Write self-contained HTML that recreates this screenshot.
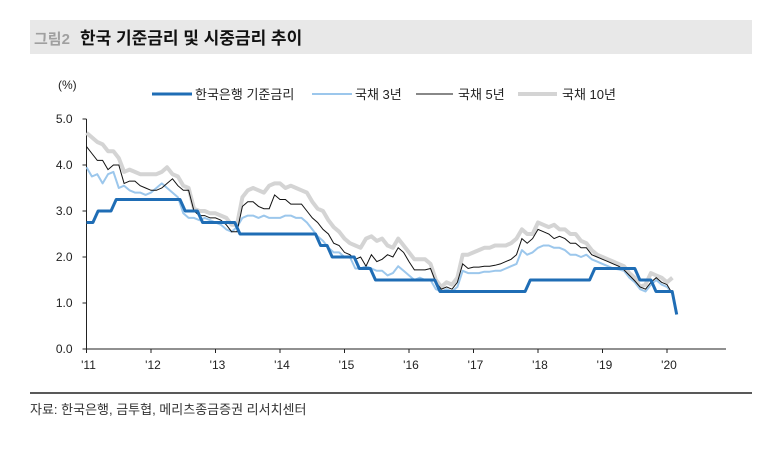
<!DOCTYPE html>
<html><head><meta charset="utf-8"><style>
body{margin:0;background:#fff;width:769px;height:444px;overflow:hidden;font-family:"Liberation Sans","Noto Sans CJK KR",sans-serif;}
</style></head><body>
<svg width="769" height="444" xmlns="http://www.w3.org/2000/svg" style="font-family:'Liberation Sans','Noto Sans CJK KR',sans-serif">
<rect x="30" y="20" width="722" height="34" fill="#e8e8e8"/>
<text x="34" y="44" font-size="15" fill="#a0a0a0" font-weight="bold">그림2</text>
<text x="80" y="44" font-size="17" fill="#111" font-weight="bold">한국 기준금리 및 시중금리 추이</text>
<text x="58" y="89" font-size="12" fill="#222">(%)</text>
<g id="legend" font-size="13" fill="#222">
<line x1="152" y1="94" x2="192" y2="94" stroke="#1f6db5" stroke-width="3"/><text x="195" y="99">한국은행 기준금리</text>
<line x1="312" y1="94" x2="352" y2="94" stroke="#9cc7ec" stroke-width="2"/><text x="355" y="99">국채 3년</text>
<line x1="416" y1="94" x2="453" y2="94" stroke="#111" stroke-width="1"/><text x="458" y="99">국채 5년</text>
<line x1="518" y1="94" x2="557" y2="94" stroke="#d4d4d4" stroke-width="4"/><text x="562" y="99">국채 10년</text>
</g>
<g id="axes"></g>
<g id="series"></g>
<line x1="30" y1="393" x2="752" y2="393" stroke="#222" stroke-width="1.5"/>
<text x="30" y="414" font-size="13" fill="#333">자료: 한국은행, 금투협, 메리츠종금증권 리서치센터</text>
</svg>
<script>
const yTicks=[0,1,2,3,4,5];
const yTickLabels=["0.0","1.0","2.0","3.0","4.0","5.0"];
const xYears=[2011,2012,2013,2014,2015,2016,2017,2018,2019,2020];
const xTickLabels=["'11","'12","'13","'14","'15","'16","'17","'18","'19","'20"];
const baseDates=[2011.0,2011.1,2011.18,2011.38,2011.46,2012.45,2012.53,2012.72,2012.8,2013.3,2013.38,2014.55,2014.63,2014.73,2014.81,2015.15,2015.23,2015.4,2015.48,2016.4,2016.48,2017.8,2017.88,2018.8,2018.88,2019.5,2019.58,2019.75,2019.83,2020.08,2020.15];
const baseRate=[2.75,2.75,3.0,3.0,3.25,3.25,3.0,3.0,2.75,2.75,2.5,2.5,2.25,2.25,2.0,2.0,1.75,1.75,1.5,1.5,1.25,1.25,1.5,1.5,1.75,1.75,1.5,1.5,1.25,1.25,0.75];
const ktb3=[3.95,3.75,3.8,3.6,3.8,3.85,3.5,3.55,3.45,3.4,3.4,3.35,3.4,3.5,3.6,3.5,3.4,3.3,2.95,2.85,2.85,2.8,2.85,2.8,2.75,2.7,2.6,2.55,2.65,2.85,2.9,2.9,2.85,2.9,2.85,2.85,2.85,2.9,2.9,2.85,2.85,2.75,2.6,2.45,2.35,2.2,2.1,2.1,2.0,2.0,1.75,1.75,1.8,1.75,1.7,1.7,1.6,1.65,1.8,1.7,1.6,1.5,1.55,1.5,1.5,1.3,1.25,1.3,1.25,1.35,1.7,1.65,1.65,1.65,1.68,1.68,1.7,1.7,1.75,1.8,1.85,2.15,2.05,2.1,2.2,2.25,2.25,2.2,2.2,2.15,2.05,2.05,2.0,2.05,1.95,1.9,1.85,1.8,1.75,1.73,1.7,1.55,1.45,1.3,1.25,1.4,1.5,1.4,1.35,1.2];
const ktb5=[4.4,4.25,4.1,4.1,3.9,4.0,4.0,3.6,3.65,3.65,3.55,3.5,3.45,3.45,3.5,3.6,3.7,3.55,3.45,3.45,3.0,2.9,2.9,2.85,2.85,2.8,2.7,2.55,2.55,3.1,3.2,3.2,3.1,3.05,3.05,3.35,3.25,3.25,3.15,3.15,3.15,3.0,2.85,2.75,2.6,2.5,2.3,2.25,2.1,2.05,1.95,2.0,1.8,2.05,1.9,1.95,2.05,2.0,2.2,2.1,1.9,1.72,1.72,1.72,1.75,1.45,1.3,1.35,1.3,1.45,1.85,1.75,1.78,1.78,1.8,1.8,1.82,1.85,1.9,1.95,2.05,2.4,2.3,2.4,2.6,2.55,2.5,2.4,2.45,2.4,2.3,2.3,2.2,2.2,2.05,2.0,1.95,1.9,1.85,1.8,1.72,1.6,1.48,1.35,1.3,1.45,1.55,1.45,1.4,1.2];
const ktb10=[4.7,4.6,4.5,4.45,4.3,4.3,4.15,3.85,3.9,3.85,3.8,3.8,3.8,3.8,3.85,3.95,3.8,3.75,3.55,3.5,3.05,3.0,3.0,2.95,2.95,2.9,2.85,2.7,2.7,3.3,3.45,3.5,3.45,3.4,3.55,3.6,3.6,3.5,3.55,3.5,3.45,3.4,3.2,3.05,3.0,2.8,2.65,2.55,2.4,2.3,2.25,2.2,2.4,2.45,2.35,2.4,2.25,2.2,2.4,2.25,2.1,1.95,1.95,1.95,1.85,1.5,1.35,1.45,1.4,1.55,2.05,2.05,2.1,2.15,2.2,2.2,2.25,2.25,2.25,2.3,2.4,2.6,2.5,2.5,2.75,2.7,2.65,2.7,2.6,2.6,2.5,2.5,2.35,2.3,2.15,2.05,2.0,1.95,1.9,1.85,1.8,1.65,1.55,1.35,1.4,1.65,1.6,1.55,1.45,1.55];
const NS="http://www.w3.org/2000/svg";
const x0=86.5,pxYear=64.5,y0=349,pxUnit=46;
function xs(t){return x0+(t-2011)*pxYear;}
function ys(v){return y0-v*pxUnit;}
function mk(tag,attrs,parent){const e=document.createElementNS(NS,tag);for(const k in attrs)e.setAttribute(k,attrs[k]);parent.appendChild(e);return e;}
const ax=document.getElementById('axes');
let l=mk('line',{x1:x0,y1:ys(5),x2:x0,y2:y0,stroke:'#222','stroke-width':1},ax);


l=mk('line',{x1:x0,y1:y0,x2:726,y2:y0,stroke:'#222','stroke-width':1},ax);


yTicks.forEach((v,i)=>{
 mk('line',{x1:x0-4,y1:ys(v),x2:x0,y2:ys(v),stroke:'#222'},ax);
 const t=mk('text',{x:x0-14,y:ys(v)+4,'font-size':12,fill:'#222','text-anchor':'end'},ax);
 t.textContent=yTickLabels[i];
 
 
});
xYears.forEach((yr,i)=>{
 mk('line',{x1:xs(yr),y1:y0,x2:xs(yr),y2:y0+4,stroke:'#222'},ax);
 const t=mk('text',{x:xs(yr)+2,y:y0+20,'font-size':12,fill:'#222','text-anchor':'middle'},ax);
 t.textContent=xTickLabels[i];
 
 
});
const sg=document.getElementById('series');
function monthly(arr){return arr.map((v,i)=>xs(2011+i/12).toFixed(1)+','+ys(v).toFixed(1)).join(' ');}
let p=mk('polyline',{points:monthly(ktb10),fill:'none',stroke:'#d4d4d4','stroke-width':4,'stroke-linejoin':'round'},sg);


p=mk('polyline',{points:monthly(ktb3),fill:'none',stroke:'#9cc7ec','stroke-width':2,'stroke-linejoin':'round'},sg);


p=mk('polyline',{points:monthly(ktb5),fill:'none',stroke:'#111','stroke-width':1},sg);


p=mk('polyline',{points:baseDates.map((t,i)=>xs(t).toFixed(1)+','+ys(baseRate[i]).toFixed(1)).join(' '),fill:'none',stroke:'#1f6db5','stroke-width':3,'stroke-linejoin':'round'},sg);


</script>
</body></html>
